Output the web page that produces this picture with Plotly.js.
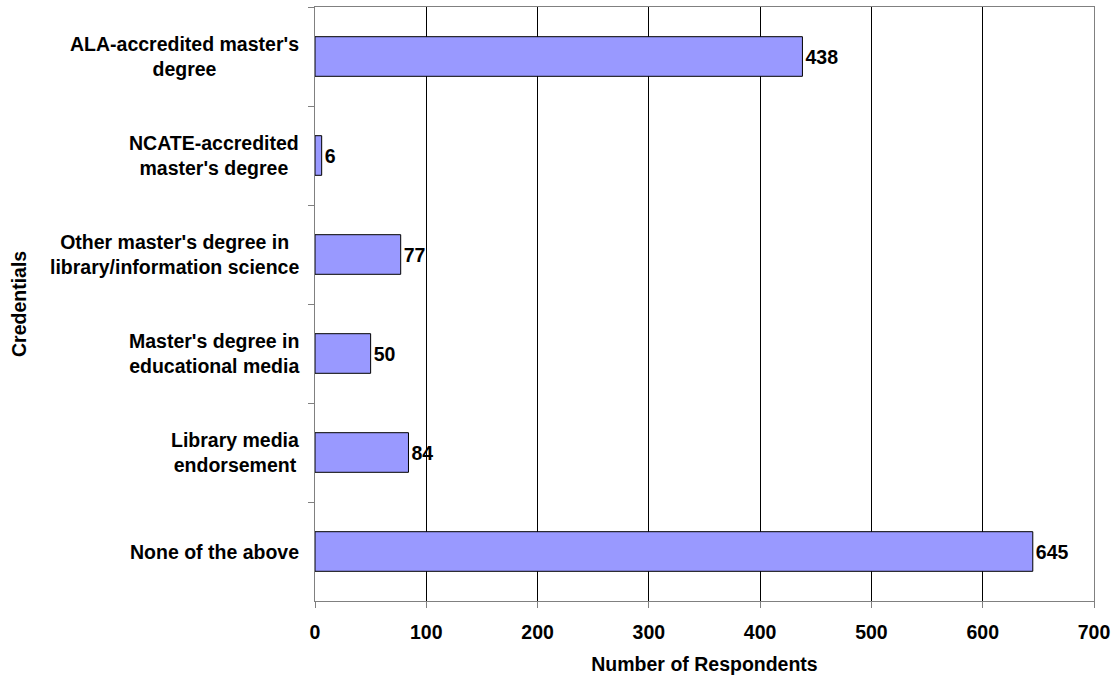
<!DOCTYPE html>
<html>
<head>
<meta charset="utf-8">
<script src="https://cdn.plot.ly/plotly-3.0.1.min.js"></script>
<style>html,body{margin:0;padding:0;background:#fff;}#chart{width:1117px;height:679px;}</style>
</head>
<body>
<div id="chart"></div>
<script>
const categories = [
  "ALA-accredited master's<br>degree",
  "NCATE-accredited<br>master's degree",
  "Other master's degree in<br>library/information science",
  "Master's degree in<br>educational media",
  "Library media<br>endorsement",
  "None of the above"
];
const respondents = [438, 6, 77, 50, 84, 645];
const xTicks = [0, 100, 200, 300, 400, 500, 600, 700];

const fontFam = 'Arial, "Liberation Sans", sans-serif';
const F = {family: fontFam, size: 19.5, color: '#000', weight: 'bold'};

const trace = {
  type: 'bar',
  orientation: 'h',
  y: categories,
  x: respondents,
  text: respondents.map(String),
  textposition: 'outside',
  cliponaxis: false,
  textfont: F,
  marker: {color: '#9999FF', line: {color: '#000', width: 1}},
  width: 0.4,
  hoverinfo: 'none'
};

const annotations = categories.map(c => ({
  xref: 'paper', yref: 'y', x: 0, y: c,
  xanchor: 'right', yanchor: 'middle', xshift: -14,
  text: c, showarrow: false, align: 'center', font: F
}));

const layout = {
  width: 1117, height: 679,
  margin: {l: 315, r: 23, t: 7, b: 78},
  paper_bgcolor: '#fff', plot_bgcolor: '#fff',
  showlegend: false,
  font: F,
  xaxis: {
    range: [0, 700], tickvals: xTicks, ticktext: xTicks.map(String),
    showgrid: true, gridcolor: '#000', gridwidth: 1,
    zeroline: false,
    showline: true, linecolor: '#808080', linewidth: 1, mirror: true,
    ticks: 'outside', ticklen: 6, tickcolor: '#808080',
    ticklabelstandoff: 8,
    tickfont: F,
    title: {text: 'Number of Respondents', font: F, standoff: 14}
  },
  yaxis: {
    type: 'category', autorange: 'reversed',
    showticklabels: false,
    ticks: 'outside', tickson: 'boundaries', ticklen: 6, tickcolor: '#808080',
    showline: true, linecolor: '#808080', linewidth: 1, mirror: true,
    showgrid: false, zeroline: false
  },
  annotations: annotations.concat([{
    xref: 'paper', yref: 'paper', x: 0, y: 0.5, xshift: -296,
    xanchor: 'center', yanchor: 'middle', textangle: -90,
    text: 'Credentials', showarrow: false, font: F
  }])
};

Plotly.newPlot('chart', [trace], layout, {displayModeBar: false, staticPlot: true});
</script>
</body>
</html>
